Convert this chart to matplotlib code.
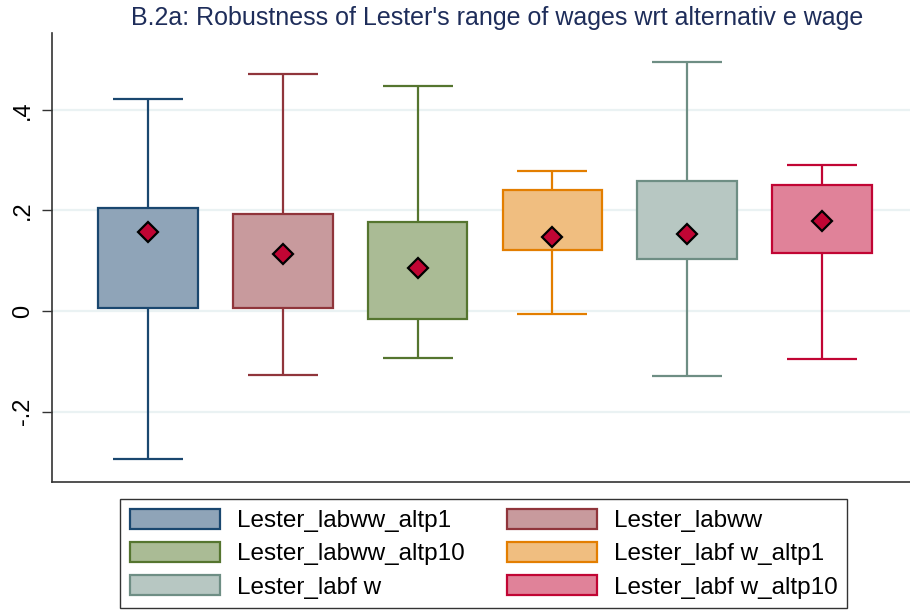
import matplotlib
matplotlib.use("Agg")
import matplotlib.pyplot as plt
from matplotlib.patches import Patch

plt.rcParams['font.family'] = ['Liberation Sans', 'DejaVu Sans']

labels = ["Lester_labww_altp1", "Lester_labww", "Lester_labww_altp10",
          "Lester_labf w_altp1", "Lester_labf w", "Lester_labf w_altp10"]
whisker_low = [-0.294, -0.127, -0.093, -0.006, -0.129, -0.095]
q1 = [0.006, 0.006, -0.016, 0.121, 0.103, 0.115]
q3 = [0.205, 0.193, 0.177, 0.241, 0.258, 0.250]
whisker_high = [0.421, 0.471, 0.447, 0.278, 0.495, 0.290]
means = [0.157, 0.113, 0.085, 0.147, 0.153, 0.179]
yticks = [-0.2, 0, 0.2, 0.4]
yticklabels = ["-.2", "0", ".2", ".4"]

edge_colors = ["#1a476f", "#90353b", "#55752f", "#e37e00", "#6e8e84", "#c10534"]
fill_colors = ["#8fa4b8", "#c89a9d", "#aabb95", "#f0be80", "#b7c7c2", "#e08299"]

fig = plt.figure(figsize=(9.1, 6.11), dpi=100)
ax = fig.add_axes([52/910, 1-482/611, (910-52)/910, (482-33)/611])

pos = list(range(1, len(labels)+1))
box_w = 0.74
cap_w = 0.52
for i, p in enumerate(pos):
    ec, fc = edge_colors[i], fill_colors[i]
    ax.vlines(p, q3[i], whisker_high[i], color=ec, lw=1.6, zorder=2)
    ax.vlines(p, whisker_low[i], q1[i], color=ec, lw=1.6, zorder=2)
    ax.hlines([whisker_low[i], whisker_high[i]], p - cap_w/2, p + cap_w/2, color=ec, lw=1.6, zorder=2)
    ax.bar(p, q3[i]-q1[i], bottom=q1[i], width=box_w, color=fc, edgecolor=ec, lw=1.6, zorder=3)
ax.plot(pos, means, linestyle='none', marker='D', markersize=10, markerfacecolor='#c10534',
        markeredgecolor='black', markeredgewidth=1.6, zorder=4)

ax.set_xlim(0.288, 6.653)
ax.set_ylim(-0.340, 0.5527)
ax.set_yticks(yticks)
ax.set_yticklabels(yticklabels, rotation=90, va='center', fontsize=17)
ax.set_xticks([])
ax.tick_params(axis='y', length=7, width=1, color='#333333', pad=6)
ax.grid(axis='y', color='#eaf2f3', lw=1.6, zorder=0)
ax.set_axisbelow(True)
for s in ['top', 'right']:
    ax.spines[s].set_visible(False)
for s in ['left', 'bottom']:
    ax.spines[s].set_color('#333333')
    ax.spines[s].set_linewidth(1.2)

fig.text(497/910, 1-18/611, "B.2a: Robustness of Lester's range of wages wrt alternativ e wage",
         ha='center', va='center', fontsize=18, color='#1e2d5a')

handles = [Patch(facecolor=fill_colors[i], edgecolor=edge_colors[i], lw=1.6, label=labels[i])
           for i in range(len(labels))]
order = [0, 2, 4, 1, 3, 5]
leg = fig.legend([handles[i] for i in order], [labels[i] for i in order], ncol=2,
                 loc='upper left', bbox_to_anchor=(120/910, 1-608/611, 727/910, 109/611),
                 mode='expand', fontsize=17.5, frameon=True, fancybox=False,
                 handlelength=3.7, handleheight=0.9, handletextpad=0.7,
                 labelspacing=0.4, borderaxespad=0, borderpad=0.4, columnspacing=1.5)
leg.get_frame().set_edgecolor('black')
leg.get_frame().set_linewidth(1.0)

fig.savefig("out.png", dpi=100)
